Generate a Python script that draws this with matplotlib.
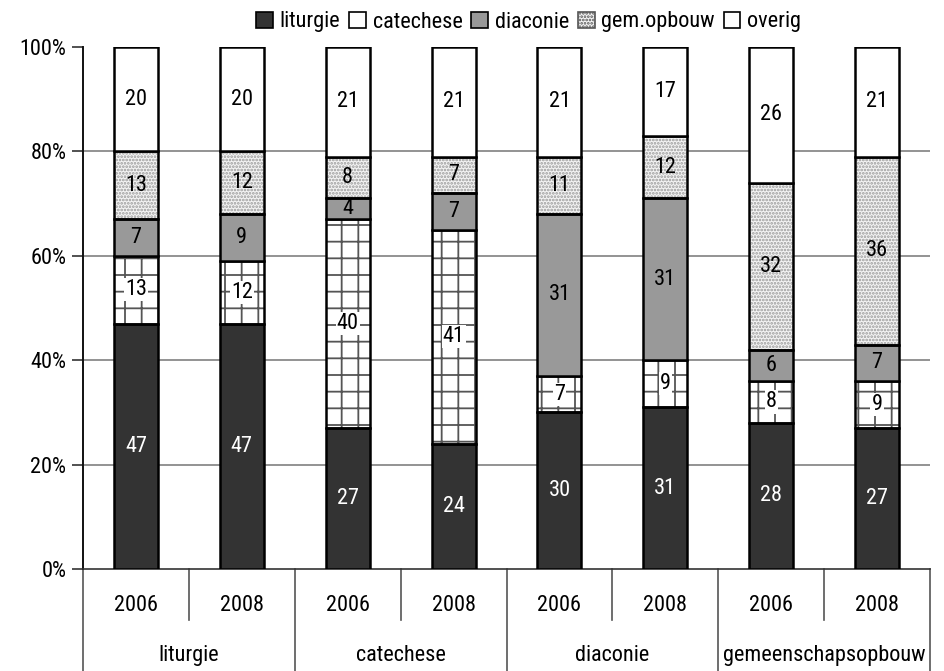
import matplotlib
matplotlib.use("Agg")
import matplotlib.pyplot as plt
from matplotlib.patches import Patch
import numpy as np

plt.rcParams['font.family'] = ['Roboto Condensed', 'Liberation Sans', 'DejaVu Sans']
plt.rcParams['hatch.linewidth'] = 1.3

groups = ['liturgie', 'catechese', 'diaconie', 'gemeenschapsopbouw']
years = ['2006', '2008']
series = ['liturgie', 'catechese', 'diaconie', 'gem.opbouw', 'overig']
liturgie = [47, 47, 27, 24, 30, 31, 28, 27]
catechese = [13, 12, 40, 41, 7, 9, 8, 9]
diaconie = [7, 9, 4, 7, 31, 31, 6, 7]
gem_opbouw = [13, 12, 8, 7, 11, 12, 32, 36]
overig = [20, 20, 21, 21, 21, 17, 26, 21]
yticks = [0, 20, 40, 60, 80, 100]

data = [liturgie, catechese, diaconie, gem_opbouw, overig]
faces = ['#333333', 'white', '#999999', '#f4f4f4', 'white']
hatches = [None, '+', None, '.....', None]
hcols = ['black', '#555555', 'black', '#9a9a9a', 'black']
txtcol = ['white', 'black', 'black', 'black', 'black']

FS = 16

fig = plt.figure(figsize=(9.44, 6.71), dpi=100)
ax = fig.add_axes([83/944, 1-569/671, (930-83)/944, (569-47)/671])

n = len(liturgie)
x = np.arange(n)
w = 0.415
bottom = np.zeros(n)
for k, vals in enumerate(data):
    vals = np.array(vals, dtype=float)
    if hatches[k]:
        ax.bar(x, vals, w, bottom=bottom, color=faces[k], edgecolor=hcols[k],
               hatch=hatches[k], linewidth=0, zorder=2)
        ax.bar(x, vals, w, bottom=bottom, facecolor='none', edgecolor='black',
               linewidth=1.8, zorder=3)
    else:
        ax.bar(x, vals, w, bottom=bottom, color=faces[k], edgecolor='black',
               linewidth=1.8, zorder=3)
    for i in range(n):
        kw = {}
        if k == 1:
            kw['bbox'] = dict(boxstyle='square,pad=0.05', fc='white', ec='none')
        ax.text(x[i], bottom[i] + vals[i]/2, f"{int(vals[i])}", ha='center', va='center',
                fontsize=FS, color=txtcol[k], zorder=4, **kw)
    bottom += vals

ax.set_xlim(-0.5, n - 0.5)
ax.set_ylim(0, 100)
ax.set_yticks(yticks)
ax.set_yticklabels([f"{v}%" for v in yticks], fontsize=FS)
for yv in yticks[1:-1]:
    ax.axhline(yv, color='#808080', linewidth=1.2, zorder=0)
ax.tick_params(axis='y', length=8, width=1.2, color='#333333', pad=4)
ax.set_xticks([])
for s in ['top', 'right']:
    ax.spines[s].set_visible(False)
ax.spines['left'].set_color('#111111')
ax.spines['bottom'].set_color('#333333')
ax.spines['left'].set_linewidth(1.4)
ax.spines['bottom'].set_linewidth(1.2)

trans = ax.get_xaxis_transform()
for i in range(n):
    ax.text(x[i], -0.069, years[i % 2], ha='center', va='center', fontsize=FS,
            transform=trans, clip_on=False)
for g, name in enumerate(groups):
    ax.text(2*g + 0.5, -0.165, name, ha='center', va='center', fontsize=FS,
            transform=trans, clip_on=False)
for g in range(len(groups) + 1):
    ax.plot([2*g - 0.5, 2*g - 0.5], [0, -0.2], color='#555555', lw=1.2,
            transform=trans, clip_on=False)
for g in range(len(groups)):
    ax.plot([2*g + 0.5, 2*g + 0.5], [0, -0.098], color='#555555', lw=1.2,
            transform=trans, clip_on=False)

handles = []
for k in range(len(series)):
    handles.append(Patch(facecolor=faces[k], edgecolor='black' if k != 3 else '#555555',
                         hatch=None if k != 3 else '.....', linewidth=1.2))
fig.legend(handles, series, loc='center', bbox_to_anchor=(0.56, 1 - 22/671), ncol=5,
           frameon=False, fontsize=16, handlelength=0.75, handleheight=0.75,
           handletextpad=0.3, columnspacing=0.4, borderaxespad=0)

fig.savefig('out.png', dpi=100)
